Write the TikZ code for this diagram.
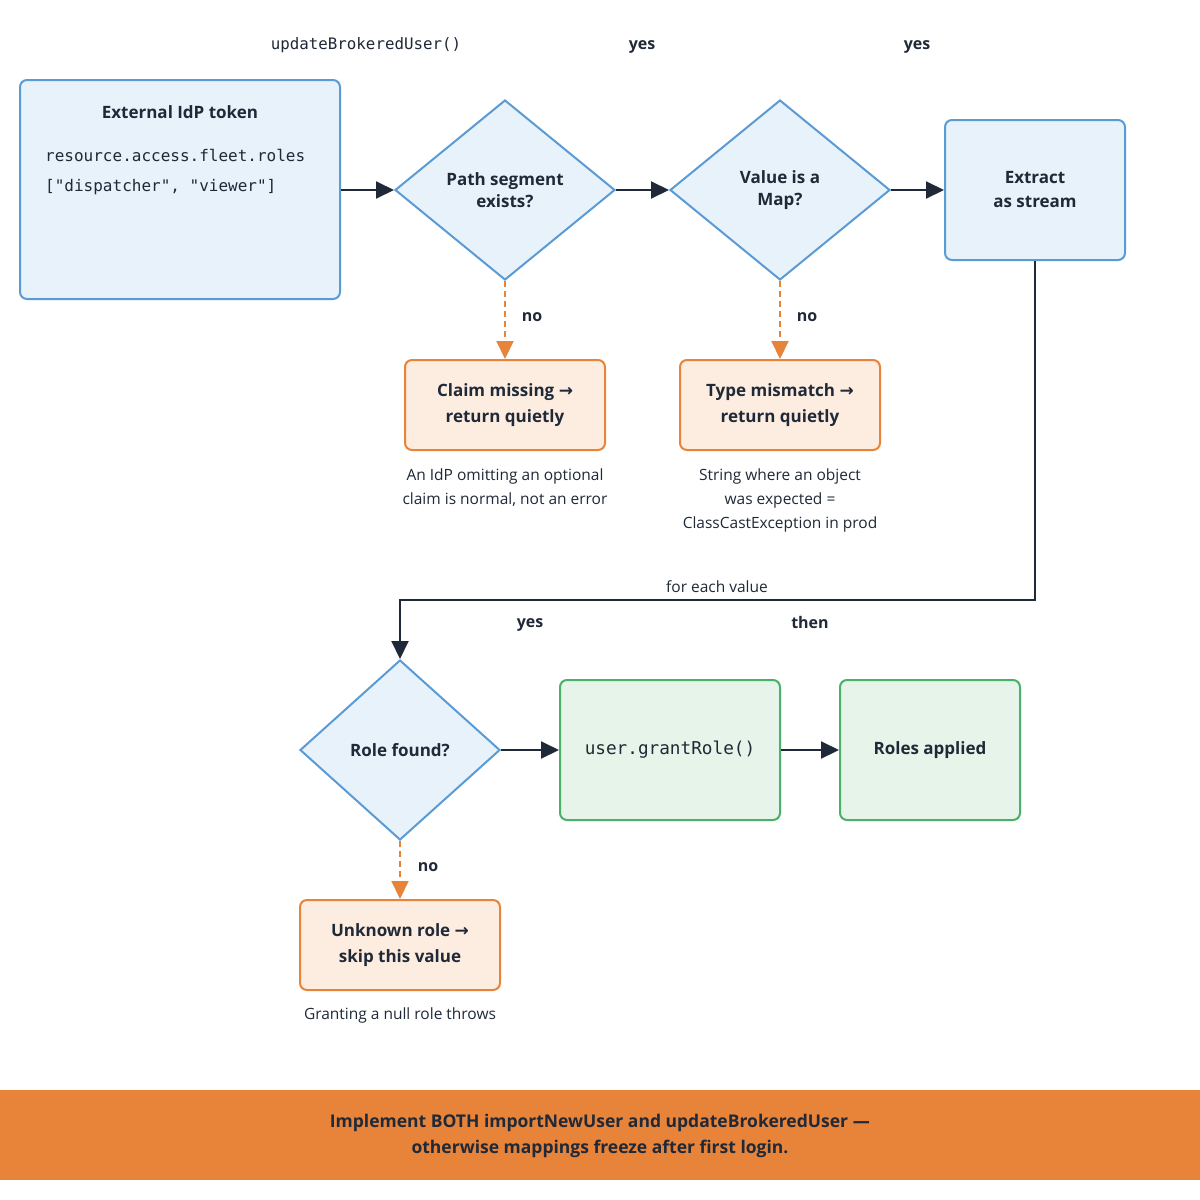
\documentclass[tikz,border=0pt]{standalone}
\usepackage{fontspec}
\setmainfont{Open Sans}
\setmonofont{DejaVu Sans Mono}
\newfontfamily\symfont{DejaVu Sans}
\newcommand{\rarr}{{\symfont →}}
\usetikzlibrary{shapes.geometric,arrows.meta}
\definecolor{ink}{HTML}{1F2937}
\definecolor{bluestroke}{HTML}{5B9BD5}
\definecolor{bluefill}{HTML}{E8F2FB}
\definecolor{orstroke}{HTML}{E8833A}
\definecolor{orfill}{HTML}{FDEDE0}
\definecolor{grstroke}{HTML}{4CAF6A}
\definecolor{grfill}{HTML}{E6F4EA}
\definecolor{banner}{HTML}{E8833A}
\tikzset{
  x=1pt,y=-1pt,
  boxtext/.style={font=\fontsize{17}{26}\selectfont\bfseries, text=ink, align=center},
  bluebox/.style={draw=bluestroke, fill=bluefill, line width=2pt, rounded corners=7pt, boxtext, inner sep=0pt},
  orbox/.style={draw=orstroke, fill=orfill, line width=2pt, rounded corners=7pt, boxtext, minimum width=200pt, minimum height=90pt, inner sep=0pt},
  grbox/.style={draw=grstroke, fill=grfill, line width=2pt, rounded corners=7pt, boxtext, minimum width=220pt, minimum height=140pt, inner sep=0pt},
  dia/.style={diamond, draw=bluestroke, fill=bluefill, line width=2pt, boxtext, font=\fontsize{17}{22}\selectfont\bfseries, minimum width=220pt, minimum height=180pt, inner sep=0pt},
  note/.style={font=\fontsize{15.5}{24}\selectfont, text=ink, align=center},
  lab/.style={font=\fontsize{16}{20}\selectfont\bfseries, text=ink, anchor=base, inner sep=0pt},
  mono/.style={font=\ttfamily\fontsize{16}{20}\selectfont, text=ink, inner sep=0pt},
  flow/.style={draw=ink, line width=2pt, -{Triangle[length=18pt,width=17pt]}},
  noflow/.style={draw=orstroke, line width=2pt, dash pattern=on 6pt off 4pt, -{Triangle[length=18pt,width=17pt]}},
}
\begin{document}
\begin{tikzpicture}
\useasboundingbox (0,0) rectangle (1200,1200);
\fill[white] (0,0) rectangle (1200,1200);
% banner
\fill[banner] (0,1090) rectangle (1200,1180);
\node[font=\fontsize{17.5}{26}\selectfont\bfseries, text=ink, align=center] (bannertext) at (600,1136)
  {Implement BOTH importNewUser and updateBrokeredUser {\symfont —}\\otherwise mappings freeze after first login.};

% top row
\node[bluebox, minimum width=320pt, minimum height=219pt] (token) at (180,189.5) {};
\node[boxtext] (tokentitle) at (180,112) {External IdP token};
\node[mono, anchor=west] (tok1) at (45,155) {resource.access.fleet.roles};
\node[mono, anchor=west] (tok2) at (45,187) {["dispatcher", "viewer"]};

\node[dia] (path) at (505,190) {Path segment\\exists?};
\node[dia] (map) at (780,190) {Value is a\\Map?};
\node[bluebox, minimum width=180pt, minimum height=140pt, font=\fontsize{17}{24}\selectfont\bfseries] (extract) at (1035,190) {Extract\\as stream};

\draw[flow] (token.east |- path) -- (path.west);
\draw[flow] (path.east) -- (map.west);
\draw[flow] (map.east) -- (extract.west);

\node[mono, font=\ttfamily\fontsize{15.8}{20}\selectfont] (lupd) at (366,45) {updateBrokeredUser()};
\node[lab] (lyes1) at (642,49.5) {yes};
\node[lab] (lyes2) at (917,49.5) {yes};

% orange no branches
\node[orbox] (claim) at (505,405) {Claim missing \rarr\\return quietly};
\node[orbox] (type) at (780,405) {Type mismatch \rarr\\return quietly};
\draw[noflow] (path.south) -- (claim.north);
\draw[noflow] (map.south) -- (type.north);
\node[lab] (lno1) at (532,321) {no};
\node[lab] (lno2) at (807,321) {no};
\node[note] (n1) at (505,488) {An IdP omitting an optional\\claim is normal, not an error};
\node[note] (n2) at (780,500) {String where an object\\was expected =\\ClassCastException in prod};

% lower row
\node[dia, minimum width=200pt, minimum height=180pt] (role) at (400,750) {Role found?};
\node[grbox, font=\ttfamily\fontsize{17.7}{22}\selectfont] (grant) at (670,750) {user.grantRole()};
\node[grbox, minimum width=180pt] (applied) at (930,750) {Roles applied};
\coordinate (c1) at (1035,600);
\coordinate (c2) at (400,600);
\draw[flow] (extract.south) -- (c1) -- (c2) -- (role.north);
\node[note] (lfor) at (717,587) {for each value};
\draw[flow] (role.east) -- (grant.west);
\draw[flow] (grant.east) -- (applied.west);
\node[lab] (lyes3) at (530,627.5) {yes};
\node[lab] (lthen) at (810,628) {then};

\node[orbox] (unknown) at (400,945) {Unknown role \rarr\\skip this value};
\draw[noflow] (role.south) -- (unknown.north);
\node[lab] (lno3) at (428,871) {no};
\node[note] (n3) at (400,1015) {Granting a null role throws};
\end{tikzpicture}
\end{document}
